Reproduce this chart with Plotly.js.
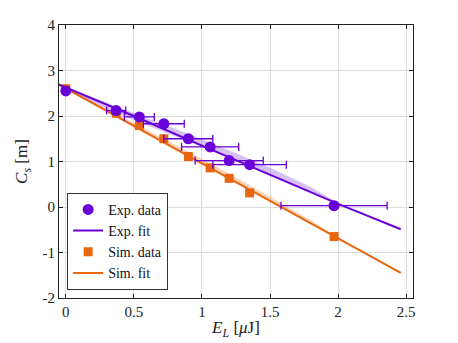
<!DOCTYPE html>
<html>
<head>
<meta charset="utf-8">
<script src="https://cdn.plot.ly/plotly-3.0.1.min.js"></script>
<style>
  html, body { margin: 0; padding: 0; background: #fff; }
  #plotArea { width: 458px; height: 343px; }
</style>
</head>
<body>
<div id="plotArea"></div>
<script>
// measured points
var expX = [0, 0.37, 0.54, 0.72, 0.90, 1.06, 1.20, 1.35, 1.97];
var expY = [2.55, 2.12, 1.98, 1.83, 1.50, 1.32, 1.02, 0.93, 0.03];
var expErr = [0, 0.07, 0.11, 0.15, 0.18, 0.21, 0.25, 0.27, 0.39];

var simX = [0, 0.37, 0.54, 0.72, 0.90, 1.06, 1.20, 1.35, 1.97];
var simY = [2.60, 2.06, 1.79, 1.50, 1.11, 0.86, 0.63, 0.31, -0.65];

// fit lines
var fitX = [-0.05, 0.5, 1.0, 1.5, 2.0, 2.46];
var expFitY = [2.69, 2.00, 1.35, 0.71, 0.07, -0.49];
var simFitY = [2.69, 1.78, 0.96, 0.14, -0.69, -1.45];

// shaded bands
var bandX = [0, 0.3, 0.6, 0.9, 1.2, 1.5, 1.8, 2.0];
var expUpper = [2.65, 2.29, 1.95, 1.61, 1.24, 0.86, 0.44, 0.08];
var expLower = [2.59, 2.15, 1.79, 1.44, 1.07, 0.69, 0.31, 0.06];
var simUpper = [2.63, 2.16, 1.69, 1.22, 0.73, 0.23, -0.29, -0.67];
var simLower = [2.59, 2.08, 1.58, 1.09, 0.60, 0.11, -0.39, -0.70];

var xTicks = [0, 0.5, 1, 1.5, 2, 2.5];
var xTickText = ["0", "0.5", "1", "1.5", "2", "2.5"];
var yTicks = [-2, -1, 0, 1, 2, 3, 4];
var yTickText = ["-2", "-1", "0", "1", "2", "3", "4"];

var purple = "#6A00D8";
var orange = "#E8660D";
var font = "Liberation Serif, DejaVu Serif, serif";

var bandExpHi = {x: bandX, y: expUpper, mode: "lines", line: {width: 0}, showlegend: false, hoverinfo: "skip"};
var bandExpLo = {x: bandX, y: expLower, mode: "lines", line: {width: 0}, fill: "tonexty",
    fillcolor: "rgba(150,90,230,0.38)", showlegend: false, hoverinfo: "skip"};
var bandSimHi = {x: bandX, y: simUpper, mode: "lines", line: {width: 0}, showlegend: false, hoverinfo: "skip"};
var bandSimLo = {x: bandX, y: simLower, mode: "lines", line: {width: 0}, fill: "tonexty",
    fillcolor: "rgba(245,150,80,0.4)", showlegend: false, hoverinfo: "skip"};

var expData = {
    x: expX, y: expY, mode: "markers", type: "scatter", name: "Exp. data", legendrank: 1,
    marker: {color: purple, size: 11, symbol: "circle"},
    error_x: {type: "data", array: expErr, color: purple, thickness: 1.3, width: 4}
};
var expFit = {x: fitX, y: expFitY, mode: "lines", name: "Exp. fit", legendrank: 2,
    line: {color: purple, width: 2}};
var simData = {
    x: simX, y: simY, mode: "markers", type: "scatter", name: "Sim. data", legendrank: 3,
    marker: {color: orange, size: 9, symbol: "square"}
};
var simFit = {x: fitX, y: simFitY, mode: "lines", name: "Sim. fit", legendrank: 4,
    line: {color: orange, width: 2}};

// sim points go under the exp points
var data = [bandExpHi, bandExpLo, bandSimHi, bandSimLo, simData, simFit, expData, expFit];

var axisStyle = {
    showline: true, linecolor: "#222", linewidth: 1, mirror: "ticks",
    ticks: "inside", ticklen: 4, tickcolor: "#222",
    showgrid: true, gridcolor: "#dcdcdc", gridwidth: 1, zeroline: false,
    tickfont: {family: font, size: 15, color: "#222"}
};

var layout = {
    width: 458, height: 343,
    margin: {l: 59, r: 45, t: 25, b: 45},
    paper_bgcolor: "#fff", plot_bgcolor: "#fff",
    font: {family: font, color: "#222"},
    xaxis: Object.assign({}, axisStyle, {
        range: [-0.05, 2.55], tickvals: xTicks, ticktext: xTickText,
        title: {text: "<i>E</i><sub><i>L</i></sub> [<i>μ</i>J]", font: {family: font, size: 17}, standoff: 2}
    }),
    yaxis: Object.assign({}, axisStyle, {
        range: [-2, 4], tickvals: yTicks, ticktext: yTickText,
        title: {text: "<i>C</i><sub><i>s</i></sub> [m]", font: {family: font, size: 17}, standoff: 10}
    }),
    legend: {
        x: 0.023, y: 0.03, xanchor: "left", yanchor: "bottom",
        traceorder: "normal",
        bgcolor: "#fff", bordercolor: "#333", borderwidth: 1,
        font: {family: font, size: 14, color: "#111"},
        tracegroupgap: 0, itemwidth: 30
    },
    showlegend: true
};

Plotly.newPlot("plotArea", data, layout, {staticPlot: true});
</script>
</body>
</html>
